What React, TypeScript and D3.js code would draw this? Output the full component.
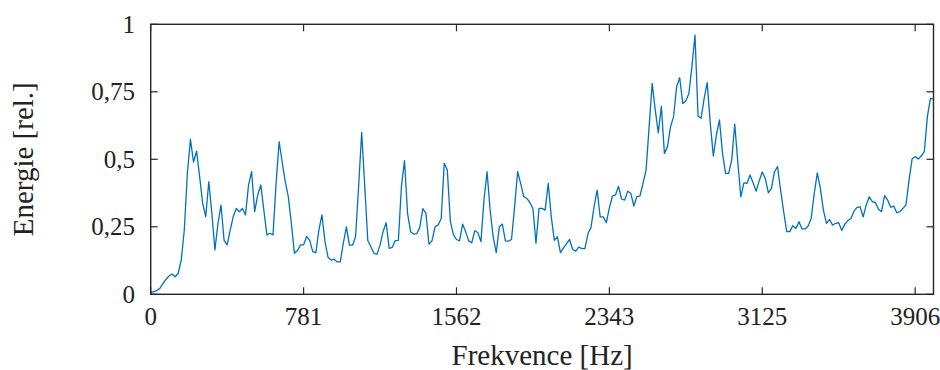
import React, { useEffect, useRef } from 'react';
import * as d3 from 'd3';

// relative energy per FFT bin (bin width 15.625 Hz)
const energy = [
  0.006, 0.01, 0.014, 0.022, 0.04, 0.055, 0.068, 0.075, 0.065, 0.078,
  0.127, 0.24, 0.45, 0.574, 0.49, 0.53, 0.436, 0.337, 0.288, 0.417,
  0.3, 0.164, 0.263, 0.33, 0.2, 0.183, 0.238, 0.288, 0.318, 0.306,
  0.318, 0.294, 0.405, 0.454, 0.306, 0.368, 0.405, 0.312, 0.22, 0.226,
  0.22, 0.41, 0.565, 0.49, 0.417, 0.362, 0.263, 0.152, 0.162, 0.183,
  0.183, 0.214, 0.2, 0.158, 0.154, 0.238, 0.294, 0.195, 0.137, 0.127,
  0.13, 0.12, 0.12, 0.19, 0.25, 0.182, 0.182, 0.213, 0.4, 0.6,
  0.4, 0.199, 0.176, 0.152, 0.148, 0.182, 0.232, 0.265, 0.17, 0.174,
  0.199, 0.2, 0.4, 0.495, 0.3, 0.232, 0.223, 0.225, 0.248, 0.317,
  0.3, 0.186, 0.199, 0.25, 0.257, 0.281, 0.485, 0.46, 0.27, 0.22,
  0.203, 0.198, 0.26, 0.232, 0.198, 0.191, 0.236, 0.228, 0.195, 0.35,
  0.454, 0.312, 0.213, 0.154, 0.25, 0.26, 0.198, 0.197, 0.203, 0.324,
  0.454, 0.41, 0.362, 0.355, 0.34, 0.318, 0.189, 0.318, 0.318, 0.312,
  0.411, 0.287, 0.2, 0.213, 0.154, 0.172, 0.188, 0.203, 0.166, 0.16,
  0.175, 0.169, 0.169, 0.225, 0.248, 0.325, 0.386, 0.287, 0.287, 0.265,
  0.32, 0.364, 0.368, 0.4, 0.353, 0.349, 0.382, 0.374, 0.327, 0.362,
  0.364, 0.411, 0.46, 0.62, 0.781, 0.683, 0.598, 0.696, 0.522, 0.547,
  0.62, 0.658, 0.769, 0.802, 0.707, 0.716, 0.744, 0.843, 0.96, 0.66,
  0.652, 0.726, 0.784, 0.633, 0.512, 0.59, 0.646, 0.522, 0.448, 0.448,
  0.497, 0.63, 0.49, 0.361, 0.413, 0.411, 0.442, 0.413, 0.382, 0.42,
  0.453, 0.429, 0.376, 0.392, 0.454, 0.473, 0.386, 0.306, 0.232, 0.232,
  0.254, 0.244, 0.269, 0.242, 0.242, 0.253, 0.281, 0.374, 0.45, 0.392,
  0.312, 0.263, 0.277, 0.256, 0.263, 0.265, 0.236, 0.26, 0.273, 0.281,
  0.308, 0.322, 0.324, 0.287, 0.331, 0.361, 0.343, 0.34, 0.315, 0.306,
  0.365, 0.349, 0.322, 0.327, 0.302, 0.306, 0.318, 0.331, 0.423, 0.501,
  0.51, 0.501, 0.512, 0.528, 0.658, 0.726, 0.723
];

const xTickBins = [0, 50, 100, 150, 200, 250];
const xTickLabels = ['0', '781', '1562', '2343', '3125', '3906'];
const yTicks = [0, 0.25, 0.5, 0.75, 1];
const yTickLabels = ['0', '0,25', '0,5', '0,75', '1'];

export default function App() {
  const ref = useRef<SVGSVGElement>(null);

  useEffect(() => {
    const width = 940;
    const height = 370;
    const m = { left: 150.7, right: 933.5, top: 24.3, bottom: 294.3 };
    const font = "'Liberation Serif', 'DejaVu Serif', serif";
    const axisColor = '#262626';

    const svg = d3.select(ref.current);
    svg.selectAll('*').remove();

    const x = d3.scaleLinear().domain([0, energy.length - 1]).range([m.left, m.right]);
    const y = d3.scaleLinear().domain([0, 1]).range([m.bottom, m.top]);

    // line
    const line = d3.line<number>()
      .x((d, i) => x(i))
      .y(d => y(d));

    svg.append('path')
      .datum(energy)
      .attr('d', line)
      .attr('fill', 'none')
      .attr('stroke', '#0072BD')
      .attr('stroke-width', 1.3)
      .attr('stroke-linejoin', 'round');

    // frame
    svg.append('rect')
      .attr('x', m.left)
      .attr('y', m.top)
      .attr('width', m.right - m.left)
      .attr('height', m.bottom - m.top)
      .attr('fill', 'none')
      .attr('stroke', axisColor)
      .attr('stroke-width', 1.4);

    const tickLen = 7;
    const ticks = svg.append('g').attr('stroke', axisColor).attr('stroke-width', 1.2);
    xTickBins.forEach(b => {
      ticks.append('line').attr('x1', x(b)).attr('x2', x(b)).attr('y1', m.bottom).attr('y2', m.bottom - tickLen);
      ticks.append('line').attr('x1', x(b)).attr('x2', x(b)).attr('y1', m.top).attr('y2', m.top + tickLen);
    });
    yTicks.forEach(t => {
      ticks.append('line').attr('x1', m.left).attr('x2', m.left + tickLen).attr('y1', y(t)).attr('y2', y(t));
      ticks.append('line').attr('x1', m.right).attr('x2', m.right - tickLen).attr('y1', y(t)).attr('y2', y(t));
    });

    // tick labels
    svg.append('g')
      .selectAll('text')
      .data(xTickBins)
      .enter()
      .append('text')
      .attr('x', d => x(d))
      .attr('y', 325)
      .attr('text-anchor', 'middle')
      .style('font-family', font)
      .attr('font-size', 25)
      .attr('fill', '#222')
      .text((d, i) => xTickLabels[i]);

    svg.append('g')
      .selectAll('text')
      .data(yTicks)
      .enter()
      .append('text')
      .attr('x', 135)
      .attr('y', d => y(d) + 8.5)
      .attr('text-anchor', 'end')
      .style('font-family', font)
      .attr('font-size', 25)
      .attr('fill', '#222')
      .text((d, i) => yTickLabels[i]);

    // axis titles
    svg.append('text')
      .attr('x', (m.left + m.right) / 2)
      .attr('y', 365)
      .attr('text-anchor', 'middle')
      .style('font-family', font)
      .attr('font-size', 29)
      .attr('fill', '#222')
      .text('Frekvence [Hz]');

    svg.append('text')
      .attr('transform', `translate(33,${(m.top + m.bottom) / 2}) rotate(-90)`)
      .attr('text-anchor', 'middle')
      .style('font-family', font)
      .attr('font-size', 29)
      .attr('fill', '#222')
      .text('Energie [rel.]');

    svg.attr('width', width).attr('height', height);
  }, []);

  return (
    <div style={{ position: 'absolute', left: 0, top: 0 }}>
      <svg ref={ref} width={940} height={370} />
    </div>
  );
}
